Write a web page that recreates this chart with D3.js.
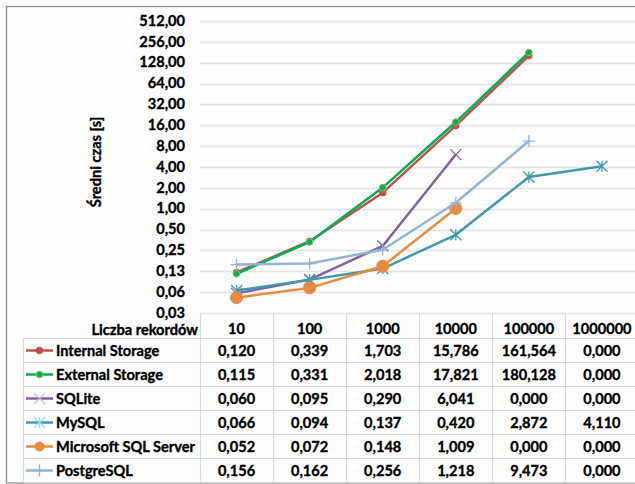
<!DOCTYPE html>
<html><head><meta charset="utf-8">
<script src="https://cdn.jsdelivr.net/npm/d3@7"></script>
<style>body{margin:0;background:#fff}svg{display:block}text{font-family:Lato,"Noto Sans",sans-serif;font-weight:bold;fill:#000;stroke:#000;stroke-width:0.35px}</style>
</head><body><svg id="c" width="635" height="484"></svg>
<script>
const categories = ["10","100","1000","10000","100000","1000000"];
const seriesNames = ["Internal Storage","External Storage","SQLite","MySQL","Microsoft SQL Server","PostgreSQL"];
const internalStorage = [0.120,0.339,1.703,15.786,161.564,0.000];
const externalStorage = [0.115,0.331,2.018,17.821,180.128,0.000];
const sqlite = [0.060,0.095,0.290,6.041,0.000,0.000];
const mysql = [0.066,0.094,0.137,0.420,2.872,4.110];
const mssql = [0.052,0.072,0.148,1.009,0.000,0.000];
const postgres = [0.156,0.162,0.256,1.218,9.473,0.000];
const yTicks = [0.03125,0.0625,0.125,0.25,0.5,1,2,4,8,16,32,64,128,256,512];
const yTitle = "Średni czas [s]";
const xTitle = "Liczba rekordów";

const series = [
 {name:seriesNames[0], values:internalStorage, color:"#c0504d", marker:"dot", mfill:"#c0504d", mstroke:"#c0504d"},
 {name:seriesNames[1], values:externalStorage, color:"#00b050", marker:"dot", mfill:"#00b050", mstroke:"#9bbb59"},
 {name:seriesNames[2], values:sqlite, color:"#7f62a0", marker:"x", mfill:"none", mstroke:"#7f62a0"},
 {name:seriesNames[3], values:mysql, color:"#4198af", marker:"star", mfill:"none", mstroke:"#4198af"},
 {name:seriesNames[4], values:mssql, color:"#e98b3d", marker:"big", mfill:"#e98b3d", mstroke:"#e98b3d"},
 {name:seriesNames[5], values:postgres, color:"#95b3d7", marker:"plus", mfill:"none", mstroke:"#95b3d7"}
];

const svg = d3.select("#c");
const FS = "14.6px";
const plotL = 200, plotR = 638.5, plotT = 21, plotB = 313;
const x = d3.scaleBand().domain(categories).range([plotL, plotR]).padding(0);
const y = d3.scaleLog().base(2).domain([yTicks[0], yTicks[yTicks.length-1]]).range([plotB, plotT]);

// background & frame
svg.append("rect").attr("x",6.5).attr("y",6.5).attr("width",640).attr("height",476.5)
  .attr("fill","#fdfdfd").attr("stroke","#8c8c8c").attr("stroke-width",1.3);

// gridlines
svg.append("g").selectAll("line").data(yTicks).join("line")
  .attr("x1",plotL).attr("x2",plotR)
  .attr("y1",d=>Math.round(y(d))+0.5).attr("y2",d=>Math.round(y(d))+0.5)
  .attr("stroke","#e3e3e3").attr("stroke-width",1.3);

// y axis labels
const fmt = v => d3.format(".2f")(v).replace(".", ",");
svg.append("g").selectAll("text").data(yTicks).join("text")
  .attr("x",185).attr("y",d=>y(d)-0.5).attr("dy","0.36em").attr("text-anchor","end")
  .style("font-size",FS).text(d=>fmt(d));

// y title
svg.append("text").attr("transform","translate(96,162) rotate(-90)")
  .attr("text-anchor","middle").attr("dy","0.35em").style("font-size",FS).text(yTitle);

// table
const rowH = 24, tableTop = 338;
const tableRight = 638;
const tg = svg.append("g");
const gridC = "#d9d9d9";
for (let i = 0; i <= series.length; i++) {
  const yy = tableTop + i*rowH + 0.5;
  tg.append("line").attr("x1",23).attr("x2",tableRight).attr("y1",yy).attr("y2",yy).attr("stroke",gridC).attr("stroke-width",1.2);
}
categories.forEach(c=>{
  tg.append("line").attr("x1",Math.round(x(c))+0.5).attr("x2",Math.round(x(c))+0.5)
   .attr("y1",plotB).attr("y2",tableTop+series.length*rowH).attr("stroke",gridC).attr("stroke-width",1.2);
});
tg.append("line").attr("x1",23.5).attr("x2",23.5).attr("y1",tableTop).attr("y2",tableTop+series.length*rowH).attr("stroke",gridC).attr("stroke-width",1.2);

// header row
const hy = 329.5;
tg.append("text").attr("x",198).attr("y",hy).attr("dy","0.36em").attr("text-anchor","end").style("font-size",FS).text(xTitle);
tg.selectAll("text.cat").data(categories).join("text").attr("class","cat")
  .attr("x",d=>x(d)+x.bandwidth()/2).attr("y",hy-1).attr("dy","0.36em").attr("text-anchor","middle").style("font-size",FS).text(d=>d);

const vfmt = v => d3.format(".3f")(v).replace(".", ",");

function drawMarker(g, s, cx, cy, legend) {
  if (s.marker==="dot") {
    g.append("circle").attr("cx",cx).attr("cy",cy).attr("r",3.3).attr("fill",s.mfill).attr("stroke",s.mstroke).attr("stroke-width",1);
  } else if (s.marker==="big") {
    g.append("circle").attr("cx",cx).attr("cy",cy).attr("r",legend?4.5:6).attr("fill",s.mfill).attr("stroke",s.mstroke).attr("stroke-width",1);
  } else if (s.marker==="x") {
    const r = 5.5;
    const c = legend ? "#c9bcdc" : s.mstroke;
    g.append("path").attr("d",`M${cx-r},${cy-r}L${cx+r},${cy+r}M${cx-r},${cy+r}L${cx+r},${cy-r}`).attr("stroke",c).attr("stroke-width",1.3).attr("fill","none");
  } else if (s.marker==="star") {
    const r = 5.5;
    const c = legend ? "#a8d8e6" : s.mstroke;
    g.append("path").attr("d",`M${cx-r},${cy-r}L${cx+r},${cy+r}M${cx-r},${cy+r}L${cx+r},${cy-r}M${cx},${cy-r}L${cx},${cy+r}`).attr("stroke",c).attr("stroke-width",1.3).attr("fill","none");
  } else if (s.marker==="plus") {
    const r = 6;
    g.append("path").attr("d",`M${cx-r},${cy}L${cx+r},${cy}M${cx},${cy-r}L${cx},${cy+r}`).attr("stroke",s.mstroke).attr("stroke-width",1.3).attr("fill","none");
  }
}

series.forEach((s,i)=>{
  const cy = tableTop + i*rowH + rowH/2 + 0.5;
  const lg = tg.append("g");
  lg.append("line").attr("x1",26).attr("x2",53).attr("y1",cy).attr("y2",cy).attr("stroke",s.color).attr("stroke-width",2.5);
  drawMarker(lg, s, 39.5, cy, true);
  tg.append("text").attr("x",56).attr("y",cy).attr("dy","0.36em").style("font-size",FS).text(s.name);
  categories.forEach((c,j)=>{
    tg.append("text").attr("x",x(c)+x.bandwidth()/2).attr("y",cy).attr("dy","0.36em").attr("text-anchor","middle").style("font-size",FS).text(vfmt(s.values[j]));
  });
});

// lines
const pg = svg.append("g");
series.forEach(s=>{
  const pts = categories.map((c,j)=>({c, v:s.values[j]}));
  const line = d3.line().defined(d=>d.v>0).x(d=>x(d.c)+x.bandwidth()/2).y(d=>y(d.v));
  const g = pg.append("g");
  g.append("path").datum(pts).attr("d",line).attr("fill","none").attr("stroke",s.color).attr("stroke-width",2.5).attr("stroke-linejoin","round");
  pts.filter(d=>d.v>0).forEach(d=>drawMarker(g, s, x(d.c)+x.bandwidth()/2, y(d.v), false));
});
</script></body></html>
